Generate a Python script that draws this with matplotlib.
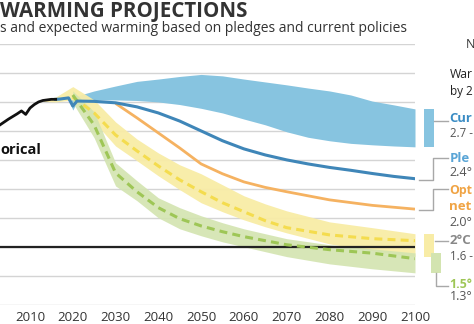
import matplotlib
matplotlib.use("Agg")
import matplotlib.pyplot as plt
from matplotlib.patches import Rectangle
from matplotlib.lines import Line2D

plt.rcParams['font.family'] = ['Open Sans', 'DejaVu Sans']

# ---------------- data (GtCO2e) ----------------
hist_years = [2003, 2004, 2005, 2006, 2007, 2008, 2009, 2010, 2011, 2012, 2013, 2014, 2015, 2016]
hist_vals = [42.2, 43.2, 44.2, 45.1, 46.0, 47.0, 45.8, 48.0, 49.2, 50.1, 50.6, 50.8, 51.0, 51.0]

pledge_years = [2016, 2017, 2018, 2019, 2020, 2021, 2025, 2030, 2035, 2040, 2045, 2050, 2055,
                2060, 2065, 2070, 2075, 2080, 2085, 2090, 2095, 2100]
pledge_vals = [51.0, 51.1, 51.3, 51.5, 48.7, 50.4, 50.3, 49.8, 48.4, 46.3, 43.5, 40.1, 36.7,
               33.9, 31.8, 30.1, 28.7, 27.5, 26.5, 25.4, 24.4, 23.6]

cur_years = [2016, 2019, 2020, 2021, 2025, 2030, 2035, 2040, 2045, 2050, 2055, 2060, 2065,
             2070, 2075, 2080, 2085, 2090, 2095, 2100]
cur_high = [51.0, 51.8, 52.2, 52.2, 53.9, 55.6, 57.2, 58.0, 58.9, 59.6, 59.1, 58.0, 57.0,
            56.0, 54.9, 53.9, 52.5, 50.4, 49.1, 47.7]
cur_low = [51.0, 51.1, 47.3, 50.1, 50.8, 50.8, 50.6, 50.1, 49.2, 47.9, 46.3, 44.2, 42.2,
           39.8, 37.9, 36.7, 35.8, 35.3, 34.9, 34.6]

opt_years = [2030, 2035, 2040, 2045, 2050, 2055, 2060, 2065, 2070, 2080, 2090, 2100]
opt_vals = [49.6, 44.6, 39.4, 34.2, 28.7, 25.3, 22.5, 20.6, 19.1, 16.3, 14.4, 13.1]

two_years = [2020, 2025, 2030, 2035, 2040, 2045, 2050, 2055, 2060, 2065, 2070, 2080, 2090, 2100]
two_vals = [51.8, 46.3, 38.7, 33.2, 28.0, 23.2, 19.1, 15.3, 12.2, 9.1, 6.7, 4.2, 2.9, 2.2]

two_band_years = [2013, 2016, 2020, 2025, 2030, 2035, 2040, 2045, 2050, 2055, 2060, 2065, 2070,
                  2080, 2090, 2100]
two_high = [51.0, 51.8, 55.4, 50.8, 43.2, 37.3, 32.5, 28.4, 25.3, 21.5, 17.7, 14.9, 12.5, 8.7, 6.7, 4.6]
two_low = [50.3, 50.1, 50.8, 43.2, 34.9, 29.8, 24.6, 19.8, 15.3, 12.2, 9.4, 7.0, 4.9, 1.1, -1.3, -3.3]

one5_years = [2020, 2025, 2030, 2035, 2040, 2045, 2050, 2055, 2060, 2065, 2070, 2080, 2090, 2100]
one5_vals = [52.5, 42.1, 25.6, 19.1, 13.6, 9.8, 7.3, 5.3, 3.6, 2.2, 0.8, -0.9, -2.1, -4.0]
one5_high = [53.9, 46.7, 29.1, 22.9, 17.0, 13.6, 10.8, 8.4, 6.3, 4.6, 2.9, 0.8, -0.6, -2.0]
one5_low = [49.8, 37.7, 21.1, 16.0, 10.1, 6.3, 3.9, 1.8, 0.1, -1.6, -3.3, -5.8, -7.5, -8.9]

xticks = [2010, 2020, 2030, 2040, 2050, 2060, 2070, 2080, 2090, 2100]
yticks = [-20, -10, 0, 10, 20, 30, 40, 50, 60, 70]

# visible text fragments (the picture is a crop of a wider graphic)
title_txt = 'WARMING PROJECTIONS'
subtitle_txt = 's and expected warming based on pledges and current policies'
hist_txt = 'orical'
side_txt = ['War', 'by 2', 'Cur', '2.7 -', 'Ple', '2.4°', 'Opt', 'net', '2.0°',
            '2°C', '1.6 -', '1.5°', '1.3°']

# ---------------- style ----------------
C_BAND_CUR = '#87c4e0'
C_PLEDGE = '#3f86b8'
C_OPT = '#f5b261'
C_Y_BAND = '#f8eca6'
C_Y_LINE = '#f4dc4e'
C_G_BAND = '#d3e4b0'
C_G_LINE = '#9ec656'
C_GRID = '#d4d4d4'
C_TEXT = '#333333'
C_CONN = '#a8a8a8'

W, H = 474, 324
fig = plt.figure(figsize=(W / 100, H / 100), dpi=100)

# axes placed so that 2010 -> x=30px, 2100 -> x=415px ; 70 -> y=44.3px, -20 -> y=305px
px_per_year = (415 - 30) / 90
x0 = 1990
left_px = 30 - (2010 - x0) * px_per_year
ax = fig.add_axes([left_px / W, 1 - 305 / H, (415 - left_px) / W, (305 - 44.3) / H])
ax.set_xlim(x0, 2100)
ax.set_ylim(-20, 70)

for s in ax.spines.values():
    s.set_visible(False)
ax.set_yticks(yticks)
ax.set_yticklabels([])
ax.tick_params(axis='y', length=0)
ax.set_xticks(xticks)
ax.set_xticklabels([str(t) for t in xticks], fontsize=9.5, color=C_TEXT)
ax.tick_params(axis='x', length=0, pad=4)
ax.grid(axis='y', color=C_GRID, linewidth=1.0, zorder=0)
ax.set_axisbelow(True)

ax.fill_between(cur_years, cur_low, cur_high, color=C_BAND_CUR, lw=0, zorder=2)
ax.fill_between(two_band_years, two_low, two_high, color=C_Y_BAND, lw=0, alpha=0.95, zorder=2)
ax.fill_between(one5_years, one5_low, one5_high, color=C_G_BAND, lw=0, alpha=0.9, zorder=2.1)

ax.axhline(0, color='#222222', lw=1.6, zorder=3)

ax.plot(opt_years, opt_vals, color=C_OPT, lw=2.0, zorder=4, solid_capstyle='butt')
ax.plot(pledge_years, pledge_vals, color=C_PLEDGE, lw=2.2, zorder=5, solid_joinstyle='round')
ax.plot(two_years, two_vals, color=C_Y_LINE, lw=2.2, dashes=(2.6, 1.7), zorder=4)
ax.plot(one5_years, one5_vals, color=C_G_LINE, lw=2.2, dashes=(2.6, 1.7), zorder=4)
ax.plot(hist_years, hist_vals, color='#111111', lw=2.0, zorder=6, solid_joinstyle='round')

# 2100 range bars right of the axes
def yr(px):
    return 2010 + (px - 30) / px_per_year

def bar(x_px_l, x_px_r, lo, hi, color):
    ax.add_patch(Rectangle((yr(x_px_l), lo), yr(x_px_r) - yr(x_px_l), hi - lo,
                           color=color, lw=0, clip_on=False, zorder=2))

bar(424, 434, cur_low[-1], cur_high[-1], C_BAND_CUR)
bar(424, 434, two_low[-1], two_high[-1], C_Y_BAND)
bar(431, 441, one5_low[-1], one5_high[-1], C_G_BAND)

def v(py):
    return (247.3 - py) / 2.9

def conn(pts):
    xs = [yr(p[0]) for p in pts]
    ys = [v(p[1]) for p in pts]
    ax.add_line(Line2D(xs, ys, color=C_CONN, lw=1.0, clip_on=False, zorder=2))

conn([(434, 121), (448, 121)])
conn([(419, 180), (433, 180), (433, 158), (448, 158)])
conn([(419, 210), (433, 210), (433, 189), (448, 189)])
conn([(435, 241), (448, 241)])
conn([(436, 273), (436, 286), (448, 286)])

# titles (cropped view)
fig.text(0 / W, 1 - 11 / H, title_txt, fontsize=14.8, fontweight='bold',
         color=C_TEXT, ha='left', va='center')
fig.text(0 / W, 1 - 28 / H, subtitle_txt, fontsize=10, color=C_TEXT, ha='left', va='center')
fig.text(0 / W, 1 - 150 / H, hist_txt, fontsize=10.5, fontweight='bold', color='#111111',
         ha='left', va='center')

# right-hand labels
tx = 449.5 / W
side_y = [75, 92, 118, 133, 159, 172, 190, 207, 222, 241, 257, 284, 297]
side_style = [
    dict(fontsize=10, color='#222222'),
    dict(fontsize=10, color='#222222'),
    dict(fontsize=9.5, fontweight='bold', color='#3a8cc4'),
    dict(fontsize=9.5, color='#555555'),
    dict(fontsize=9.5, fontweight='bold', color='#5aa5d6'),
    dict(fontsize=9.5, color='#555555'),
    dict(fontsize=9.5, fontweight='bold', color='#f0a445'),
    dict(fontsize=9.5, fontweight='bold', color='#f0a445'),
    dict(fontsize=9.5, color='#555555'),
    dict(fontsize=9.5, fontweight='bold', color='#888888'),
    dict(fontsize=9.5, color='#555555'),
    dict(fontsize=9.5, fontweight='bold', color='#9ec656'),
    dict(fontsize=9.5, color='#555555'),
]
renderer = fig.canvas.get_renderer()
for s, py, st in zip(side_txt, side_y, side_style):
    t = fig.text(tx, 1 - py / H, s, ha='left', va='center', **st)
    fs = st['fontsize']
    # shrink to fit inside the picture
    while t.get_window_extent(renderer).x1 > W - 1.5 and fs > 6:
        fs -= 0.1
        t.set_fontsize(fs)

tn = fig.text(466 / W, 1 - 45 / H, 'N', fontsize=9, color=C_TEXT, ha='left', va='center')

fig.savefig('out.png', dpi=100)
